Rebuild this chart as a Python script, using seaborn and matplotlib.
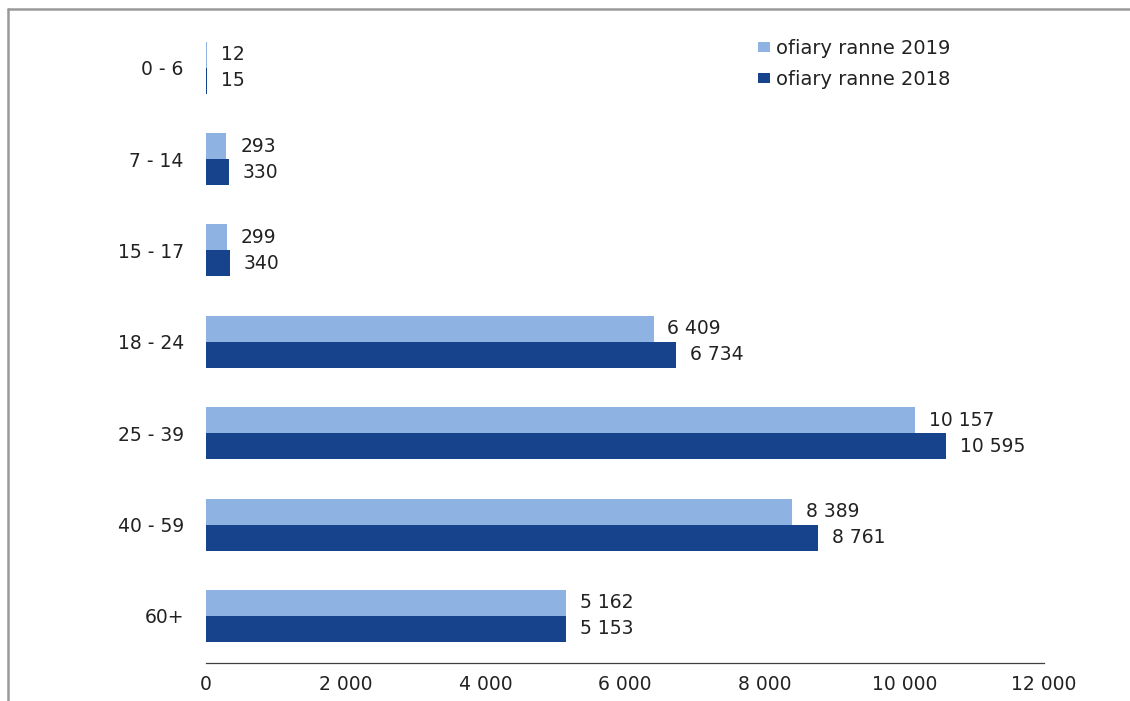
import matplotlib
matplotlib.use("Agg")
import matplotlib.pyplot as plt
from matplotlib.lines import Line2D
import seaborn as sns
import pandas as pd

# ---- data ----
categories = ["0 - 6", "7 - 14", "15 - 17", "18 - 24", "25 - 39", "40 - 59", "60+"]
series_names = ["ofiary ranne 2019", "ofiary ranne 2018"]
values_2019 = [12, 293, 299, 6409, 10157, 8389, 5162]
values_2018 = [15, 330, 340, 6734, 10595, 8761, 5153]
x_ticks = [0, 2000, 4000, 6000, 8000, 10000, 12000]

colors = ["#8EB3E2", "#17428C"]

df = pd.DataFrame({
    "grupa": categories + categories,
    "wartosc": values_2019 + values_2018,
    "seria": [series_names[0]] * len(categories) + [series_names[1]] * len(categories),
})

def fmt(v):
    return f"{v:,}".replace(",", " ")

sns.set_style("white")
plt.rcParams["font.family"] = ["DejaVu Sans"]

W, H = 1130, 701
fig = plt.figure(figsize=(W / 100, H / 100), dpi=100)
ax = fig.add_axes([206 / W, 1 - 663 / H, (1044 - 206) / W, (663 - 22) / H])

sns.barplot(data=df, y="grupa", x="wartosc", hue="seria", hue_order=series_names,
            order=categories, palette=colors, orient="h", width=0.57, gap=0,
            saturation=1, linewidth=0, edgecolor="none", ax=ax, errorbar=None)

ax.set_xlim(0, 12000)
ax.set_ylim(6.515, -0.5)
ax.set_xticks(x_ticks)
ax.set_xticklabels([fmt(t) for t in x_ticks])
ax.set_xlabel("")
ax.set_ylabel("")

for s in ["top", "right", "left"]:
    ax.spines[s].set_visible(False)
ax.spines["bottom"].set_color("#404040")
ax.spines["bottom"].set_linewidth(0.9)

ax.tick_params(axis="x", direction="out", length=4, width=0.9, color="#404040",
               pad=5, labelsize=13.5, labelcolor="#222222")
ax.tick_params(axis="y", length=0, pad=16, labelsize=13.5, labelcolor="#222222")

vals = [values_2019, values_2018]
for cont, v in zip(ax.containers, vals):
    ax.bar_label(cont, labels=[fmt(x) for x in v], padding=10, fontsize=13.5, color="#222222")

handles, labels = ax.get_legend_handles_labels()
ax.legend(handles, labels, loc="upper left", bbox_to_anchor=(758 / W, 1 - 39 / H),
          bbox_transform=fig.transFigure, frameon=False, fontsize=14,
          handlelength=0.62, handleheight=0.42, handletextpad=0.28,
          labelspacing=0.6, borderpad=0, borderaxespad=0, labelcolor="#222222")

# outer gray frame (partially visible, as in the reference)
fig.add_artist(Line2D([7.5 / W, 1], [1 - 9 / H, 1 - 9 / H], transform=fig.transFigure,
                      color="#9A9A9A", linewidth=1.8))
fig.add_artist(Line2D([7.5 / W, 7.5 / W], [0, 1 - 9 / H], transform=fig.transFigure,
                      color="#9A9A9A", linewidth=1.8))

fig.savefig("out.png", dpi=100, facecolor="white")
